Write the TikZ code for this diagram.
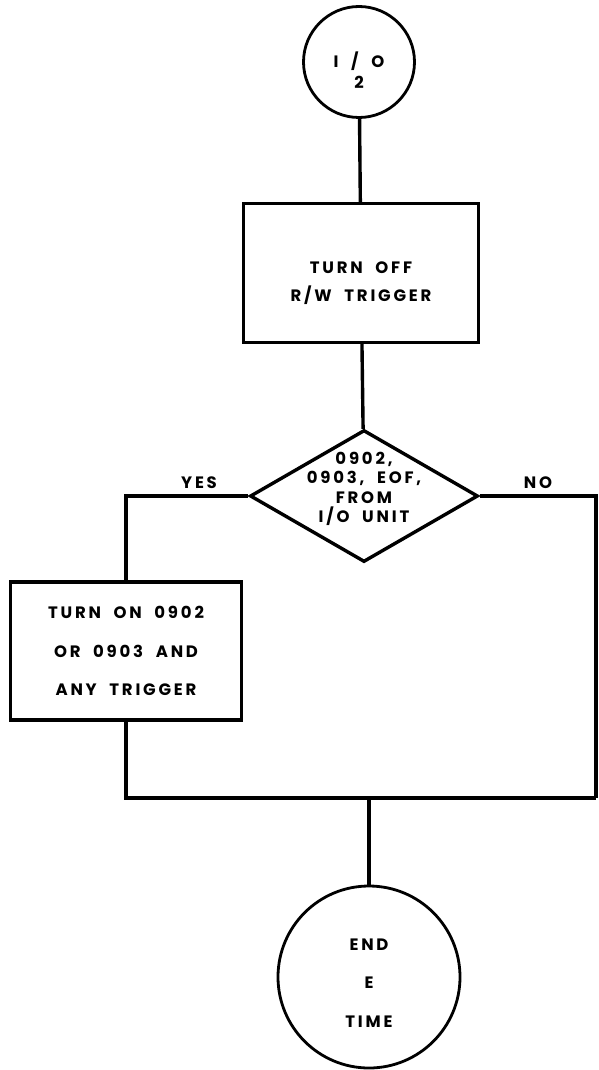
\documentclass[tikz,border=0pt]{standalone}
\usepackage{fontspec}
\newfontfamily\flfont[LetterSpace=17,WordSpace=2]{Poppins}
\usetikzlibrary{shapes.geometric}

\begin{document}
\begin{tikzpicture}[x=1pt,y=-1pt,line width=3.4pt,
  every node/.style={font=\flfont\bfseries\fontsize{16.5}{19.5}\selectfont,align=center},
  caja/.style={draw,rectangle,inner sep=0pt},
  circulo/.style={draw,circle,inner sep=0pt,line width=2.8pt},
  decision/.style={draw,diamond,inner sep=0pt}]
  \useasboundingbox (0,0) rectangle (598,1070);
  % bloques (texto como label para poder bajarlo)
  \node[circulo,minimum size=111,
    label={[yshift=-8pt]center:{I / O\\[1pt]2}}] (ini) at (359,62) {};
  \node[caja,minimum width=235,minimum height=139,
    label={[yshift=-10pt]center:{TURN OFF\\[9pt]R/W TRIGGER}}] (off) at (361,273) {};
  \node[decision,minimum width=228,minimum height=132,
    label={[yshift=7pt]center:{0902,\\0903, EOF,\\FROM\\I/O UNIT}}] (dec) at (364,496) {};
  \node[caja,minimum width=231,minimum height=138] (on) at (126,651) {TURN ON 0902\\[19pt]OR 0903 AND\\[19pt]ANY TRIGGER};
  \node[circulo,minimum size=182,
    label={[yshift=-6pt]center:{END\\[19pt]E\\[19pt]TIME}}] (fin) at (369,977) {};
  \coordinate (rb) at (596,798);
  % ramas
  \node (si) at (199,483) {YES};
  \node (no) at (538,483) {NO};
  % lineas
  \draw (ini) -- (off);
  \draw (off) -- (dec);
  \draw (dec.west) -| (on.north);
  \draw (dec.east) -| (rb);
  \draw (on.south) |- (rb);
  \draw (fin.north) -- (fin.north |- rb);
\end{tikzpicture}
\end{document}
